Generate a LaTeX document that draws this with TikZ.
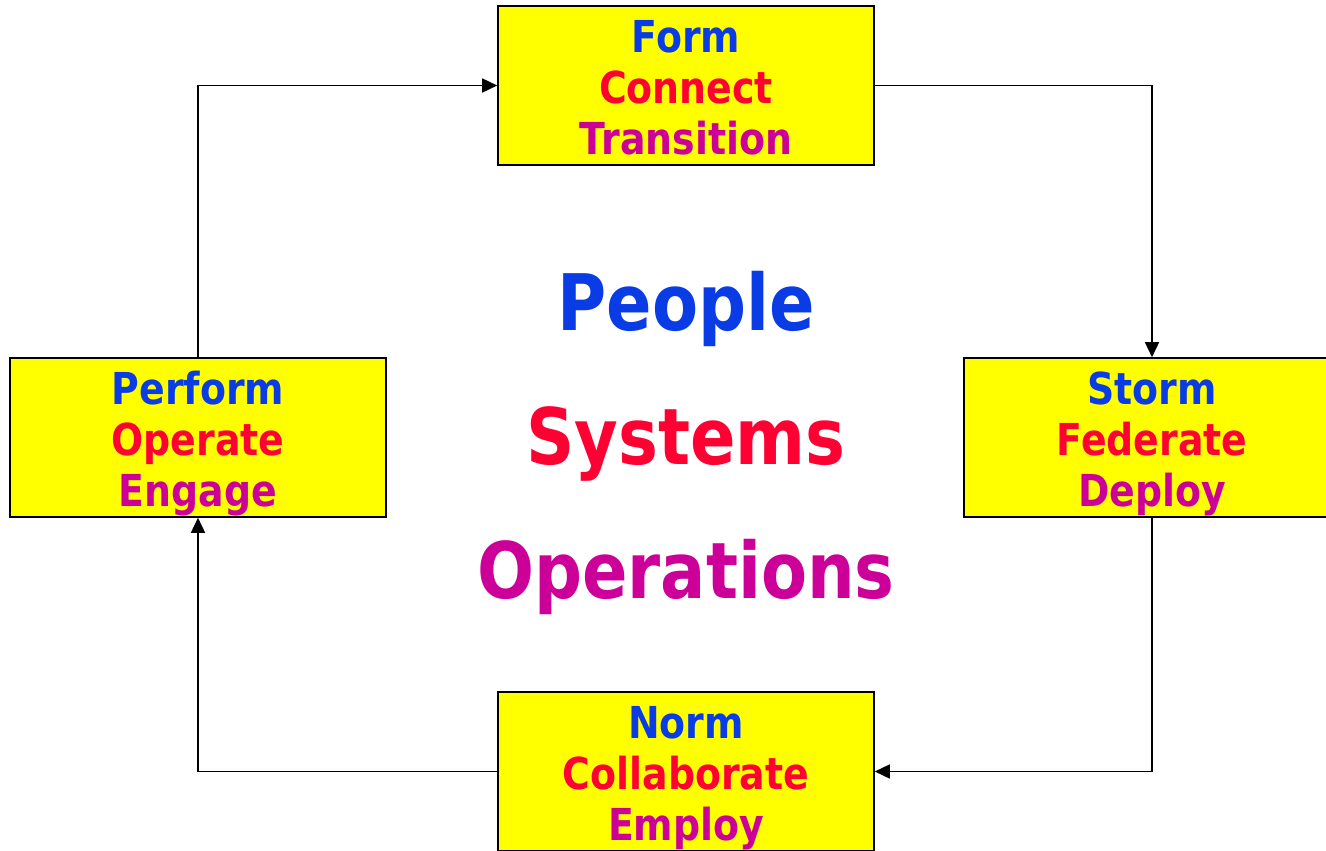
\documentclass[tikz,border=0pt]{standalone}
\usepackage{fontspec}
\newfontfamily\stagefont{DejaVu Sans}[FakeStretch=0.86]
\usepackage{tikz}
\usetikzlibrary{arrows.meta}
\usepackage{xcolor}
\definecolor{sblue}{RGB}{10,60,230}
\definecolor{sred}{RGB}{255,0,51}
\definecolor{smag}{RGB}{204,0,153}
\definecolor{syellow}{RGB}{255,255,0}
% three coloured lines, struts keep the baselines fixed inside the box
\newcommand{\stagetext}[3]{\rule{0pt}{46pt}\textcolor{sblue}{#1}\\\textcolor{sred}{#2}\\\textcolor{smag}{#3}\rule[-11pt]{0pt}{11pt}}
\tikzset{
        stage/.style={
          draw=black, line width=1.6pt, fill=syellow,
          minimum width=376pt, minimum height=159pt, inner sep=0pt,
          align=center,
          font=\stagefont\bfseries\fontsize{44}{51}\selectfont
          },
        flow/.style={
          draw=black, line width=1.6pt,
          -{Triangle[length=15pt, width=14pt]}
          },
        core/.style={
          align=center, inner sep=0pt,
          font=\stagefont\bfseries\fontsize{78}{134}\selectfont
          },
}
\begin{document}
\begin{tikzpicture}[x=1pt, y=-1pt]
      \useasboundingbox (0,0) rectangle (1326,851);
      % STAGES
      \node[stage] (form)    at (686, 85.5)  {\stagetext{Form}{Connect}{Transition}};
      \node[stage] (storm)   at (1152, 437.5) {\stagetext{Storm}{Federate}{Deploy}};
      \node[stage] (norm)    at (686, 771.5) {\stagetext{Norm}{Collaborate}{Employ}};
      \node[stage] (perform) at (198, 437.5) {\stagetext{Perform}{Operate}{Engage}};

      % CENTRE WORDS
      \node[core] (centre) at (686, 444) {\rule{0pt}{60pt}\textcolor{sblue}{People}\\\textcolor{sred}{Systems}\\\textcolor{smag}{Operations}\rule[-20pt]{0pt}{20pt}};

      % CYCLE
      \draw[flow] (perform.north) |- (form.west);
      \draw[flow] (form.east) -| (storm.north);
      \draw[flow] (storm.south) |- (norm.east);
      \draw[flow] (norm.west) -| (perform.south);
\end{tikzpicture}
\end{document}
